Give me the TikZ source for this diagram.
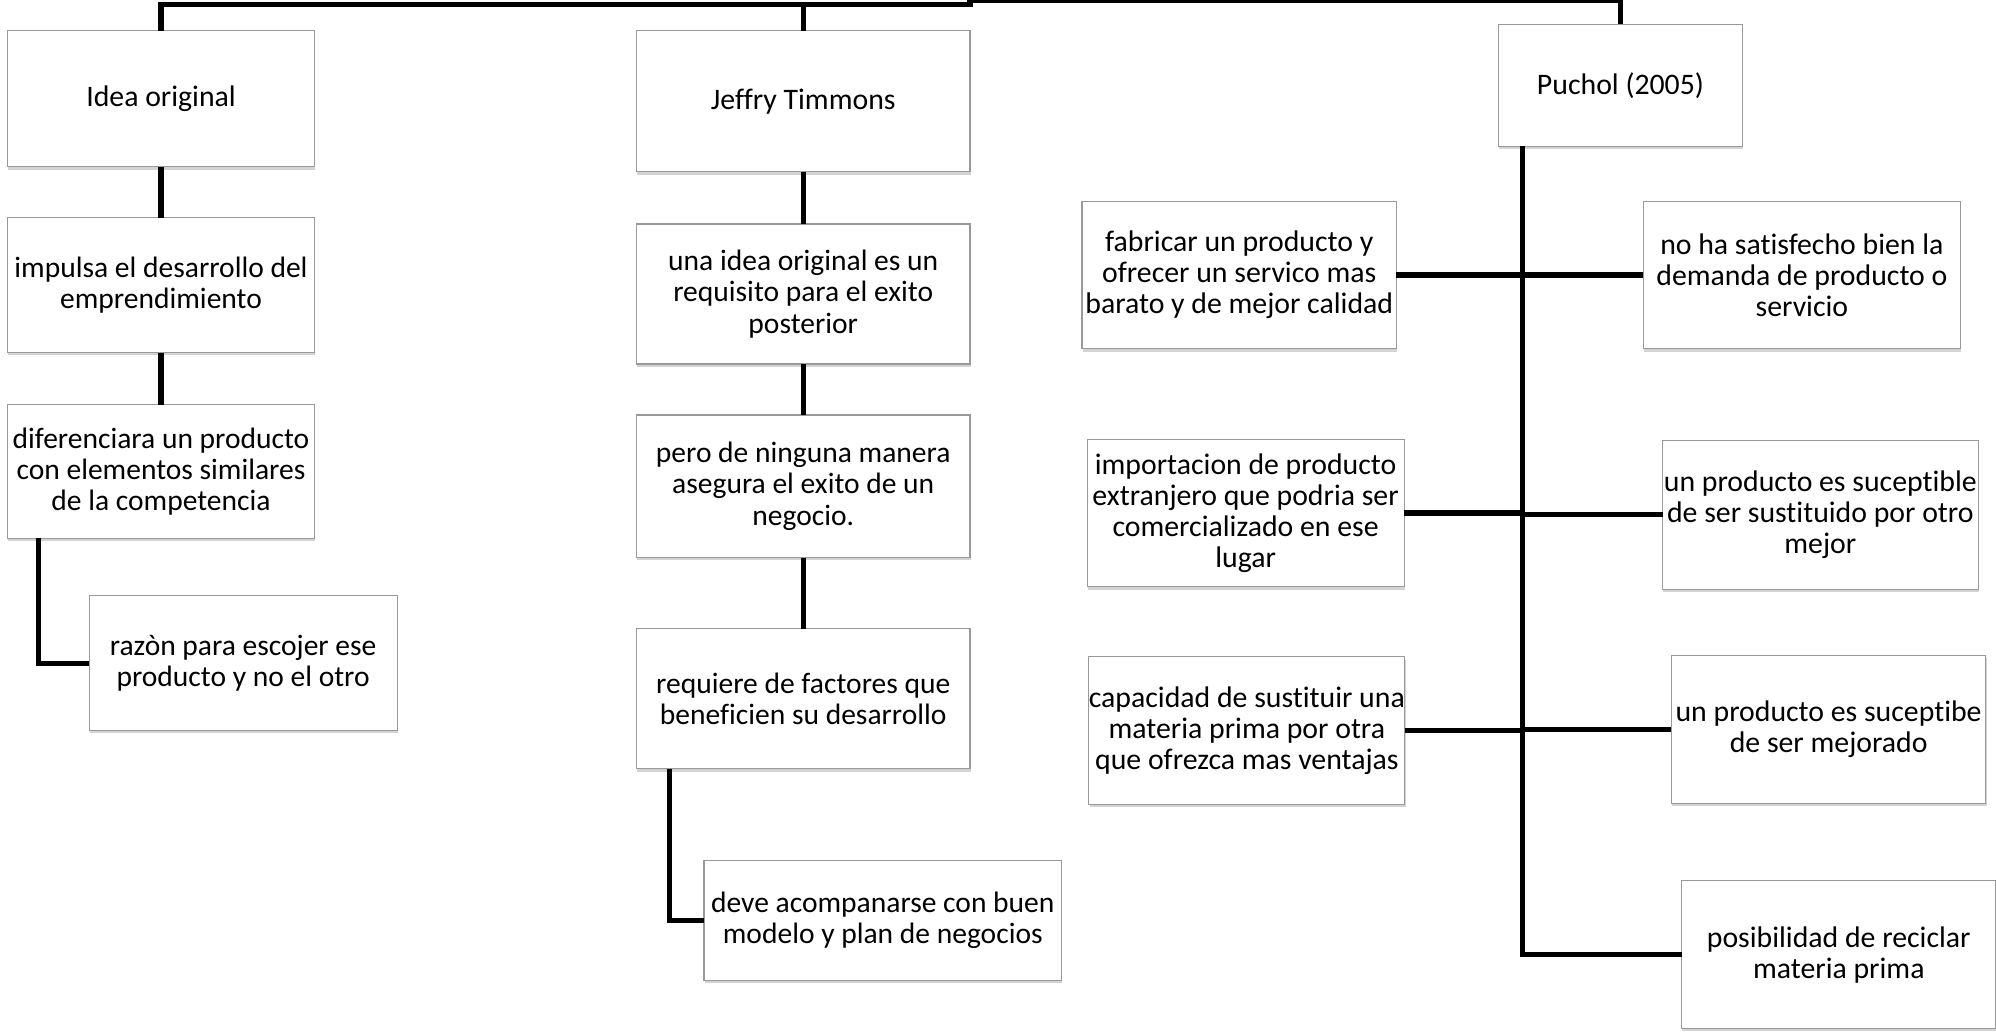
\documentclass[tikz,border=0pt]{standalone}
\usepackage{fontspec}
\setmainfont{Carlito}[Ligatures={NoCommon}]
\usetikzlibrary{shadows}
\tikzset{
  box/.style={draw=black!40, line width=0.9pt, fill=white, inner sep=0pt, outer sep=0pt,
    align=center, drop shadow={opacity=0.35, shadow xshift=0.6pt, shadow yshift=-2.2pt}},
  tA/.style={font=\fontsize{23.2}{24.6}\selectfont},
  tJ/.style={font=\fontsize{23.2}{25}\selectfont},
  tP/.style={font=\fontsize{23.4}{24.3}\selectfont},
  conn/.style={line width=4pt, black},
}
\begin{document}
\begin{tikzpicture}[x=1pt,y=-1pt]
\useasboundingbox (0,0) rectangle (1568,810);
% column A
\node[box,tP,minimum width=241pt,minimum height=107pt] (A) at (126.5,77.5) {Idea original};
\node[box,tA,minimum width=241pt,minimum height=106pt] (B) at (126.5,224) {impulsa el desarrollo del\\emprendimiento};
\node[box,tA,minimum width=241pt,minimum height=105pt] (C) at (126.5,370.5) {diferenciara un producto\\con elementos similares\\de la competencia};
\node[box,tA,minimum width=242pt,minimum height=106pt] (D) at (191,521) {razòn para escojer ese\\producto y no el otro};
% column J
\node[box,tP,minimum width=262pt,minimum height=111pt] (J) at (631,79.5) {Jeffry Timmons};
\node[box,tJ,minimum width=262pt,minimum height=110pt] (J1) at (631,231) {una idea original es un\\requisito para el exito\\posterior};
\node[box,tJ,minimum width=262pt,minimum height=112pt] (J2) at (631,382) {pero de ninguna manera\\asegura el exito de un\\negocio.};
\node[box,tJ,minimum width=262pt,minimum height=110pt] (J3) at (631,549) {requiere de factores que\\beneficien su desarrollo};
\node[box,tJ,minimum width=281pt,minimum height=94pt] (J4) at (693.5,723) {deve acompanarse con buen\\modelo y plan de negocios};
% column P
\node[box,tP,minimum width=192pt,minimum height=96pt] (P) at (1273,67) {Puchol (2005)};
\node[box,tP,minimum width=247pt,minimum height=116pt] (L1) at (973.5,216) {fabricar un producto y\\ofrecer un servico mas\\barato y de mejor calidad};
\node[box,tP,minimum width=249pt,minimum height=116pt] (R1) at (1415.5,216) {no ha satisfecho bien la\\demanda de producto o\\servicio};
\node[box,tP,minimum width=249pt,minimum height=116pt] (L2) at (978.5,403) {importacion de producto\\extranjero que podria ser\\comercializado en ese\\lugar};
\node[box,tP,minimum width=248pt,minimum height=117pt] (R2) at (1430,404.5) {un producto es suceptible\\de ser sustituido por otro\\mejor};
\node[box,tP,minimum width=247pt,minimum height=116pt] (L3) at (979.5,574) {capacidad de sustituir una\\materia prima por otra\\que ofrezca mas ventajas};
\node[box,tP,minimum width=247pt,minimum height=116pt] (R3) at (1436.5,573) {un producto es suceptibe\\de ser mejorado};
\node[box,tP,minimum width=247pt,minimum height=116pt] (R4) at (1444.5,750) {posibilidad de reciclar\\materia prima};
% top connector
\coordinate (t1) at (762,3.5);
\coordinate (t2) at (762,0.5);
\draw[conn] (A.north) |- (t1) -- (t2) -| (P.north);
\draw[conn] (J.north) -- (J.north |- t1);
% column A connectors
\draw[conn] (A.south) -- (B.north);
\draw[conn] (B.south) -- (C.north);
\draw[conn] ([xshift=24pt]C.south west) |- (D.west);
% column J connectors
\draw[conn] (J.south) -- (J1.north);
\draw[conn] (J1.south) -- (J2.north);
\draw[conn] (J2.south) -- (J3.north);
\draw[conn] ([xshift=26pt]J3.south west) |- (J4.west);
% column P connectors
\coordinate (T) at ([xshift=19pt]P.south west);
\draw[conn] (T) |- (R4.west);
\draw[conn] (L1.east) -- (R1.west);
\draw[conn] (L2.east) -- (L2.east -| T);
\draw[conn] (R2.west) -- (R2.west -| T);
\draw[conn] (L3.east) -- (L3.east -| T);
\draw[conn] (R3.west) -- (R3.west -| T);
\end{tikzpicture}
\end{document}
